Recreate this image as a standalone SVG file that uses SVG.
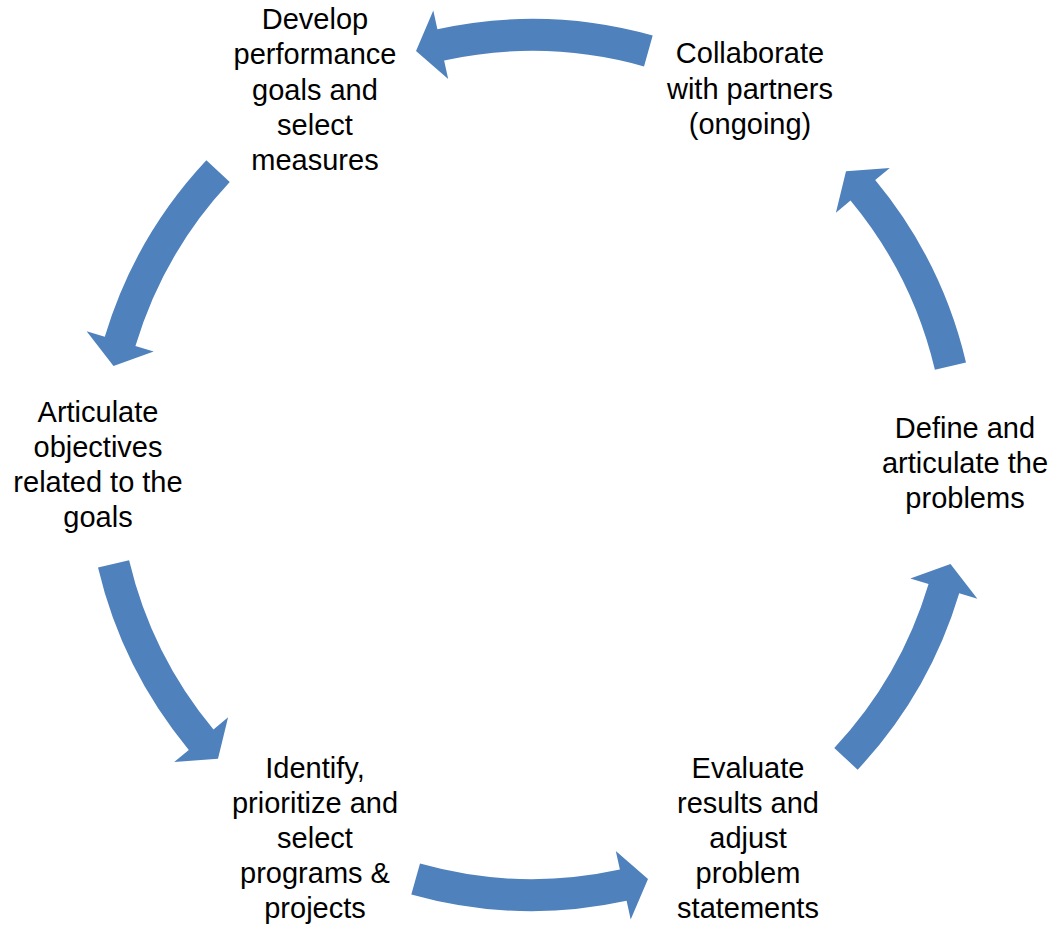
<svg xmlns="http://www.w3.org/2000/svg" width="1057" height="928" viewBox="0 0 1057 928">
  <defs>
    <style>
      .arrow { fill: #4F81BD; stroke: none; }
      .lbl { font-family: "Liberation Sans", Arial, sans-serif; font-size: 29px; fill: #000000; text-anchor: middle; }
    </style>
    <path id="arcA" d="M 644.0 66.4 L 652.7 35.6 A 446 446 0 0 0 437.4 29.2 L 433.3 10.6 L 416.0 51.0 L 448.2 79.0 L 444.1 60.4 A 414 414 0 0 1 644.0 66.4 Z"/>
    <path id="arcB" d="M 934.9 369.8 L 966.0 362.4 A 446 446 0 0 0 875.2 180.1 L 889.8 168.0 L 846.0 171.2 L 835.9 212.7 L 850.5 200.5 A 414 414 0 0 1 934.9 369.8 Z"/>
  </defs>
  <rect width="1057" height="928" fill="#FFFFFF"/>

  <g id="connectors">
    <use href="#arcA" class="arrow"/>
    <use href="#arcB" class="arrow" transform="rotate(-123.6 532 465)"/>
    <use href="#arcB" class="arrow" transform="rotate(180 532 465)"/>
    <use href="#arcA" class="arrow" transform="rotate(180 532 465)"/>
    <use href="#arcB" class="arrow" transform="rotate(56.4 532 465)"/>
    <use href="#arcB" class="arrow"/>
  </g>

  <g id="node-collaborate">
    <text class="lbl" x="750" y="63">Collaborate</text>
    <text class="lbl" x="750" y="98.5">with partners</text>
    <text class="lbl" x="750" y="134">(ongoing)</text>
  </g>

  <g id="node-develop">
    <text class="lbl" x="315" y="29">Develop</text>
    <text class="lbl" x="315" y="64.3">performance</text>
    <text class="lbl" x="315" y="99.6">goals and</text>
    <text class="lbl" x="315" y="134.9">select</text>
    <text class="lbl" x="315" y="170.2">measures</text>
  </g>

  <g id="node-articulate">
    <text class="lbl" x="98" y="421.5">Articulate</text>
    <text class="lbl" x="98" y="456.8">objectives</text>
    <text class="lbl" x="98" y="492.1">related to the</text>
    <text class="lbl" x="98" y="527.4">goals</text>
  </g>

  <g id="node-identify">
    <text class="lbl" x="315" y="778">Identify,</text>
    <text class="lbl" x="315" y="813">prioritize and</text>
    <text class="lbl" x="315" y="848">select</text>
    <text class="lbl" x="315" y="883">programs &amp;</text>
    <text class="lbl" x="315" y="918">projects</text>
  </g>

  <g id="node-evaluate">
    <text class="lbl" x="748" y="778">Evaluate</text>
    <text class="lbl" x="748" y="813">results and</text>
    <text class="lbl" x="748" y="848">adjust</text>
    <text class="lbl" x="748" y="883">problem</text>
    <text class="lbl" x="748" y="918">statements</text>
  </g>

  <g id="node-define">
    <text class="lbl" x="965" y="438">Define and</text>
    <text class="lbl" x="965" y="473">articulate the</text>
    <text class="lbl" x="965" y="508">problems</text>
  </g>
</svg>
